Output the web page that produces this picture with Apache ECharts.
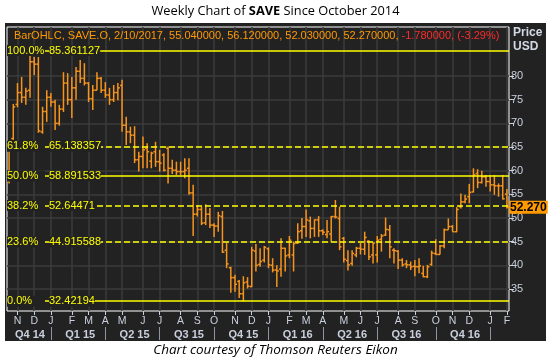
<!DOCTYPE html>
<html><head><meta charset="utf-8">
<script src="https://cdn.jsdelivr.net/npm/echarts@6/dist/echarts.min.js"></script>
<style>html,body{margin:0;padding:0;background:#fff}#c{width:551px;height:359px}</style>
</head><body><div id="c"></div>
<script>
// ---- data (weekly OHLC, SAVE.O, week ending Fridays) ----
const firstWeekEnding = '2014-10-31';
const opens = [57.8,66.8,74.0,76.5,75.5,77.0,83.0,82.5,68.2,72.5,
 75.5,74.5,70.0,73.0,78.5,75.0,77.5,81.0,79.5,78.5,
 75.2,77.0,79.5,77.0,76.0,75.0,76.5,78.0,69.6,68.2,
 67.5,62.3,63.0,64.7,62.0,64.0,61.9,63.3,64.7,60.5,
 60.1,59.8,59.8,60.5,55.3,50.8,51.8,49.0,50.8,48.5,
 48.3,50.3,43.2,39.5,37.4,36.6,34.0,36.5,35.5,43.0,
 40.2,41.1,43.5,40.0,39.0,39.2,43.6,42.2,42.2,44.7,
 47.3,48.2,49.4,47.8,49.6,47.3,46.5,46.6,50.3,49.9,
 45.7,41.0,40.4,42.2,43.6,43.4,45.1,42.2,42.2,45.5,
 46.4,47.5,43.2,43.0,41.1,40.3,40.1,39.8,39.7,38.3,
 37.6,40.2,42.5,42.3,44.1,47.5,48.2,47.1,52.4,53.4,
 54.5,55.5,59.4,57.5,58.7,57.7,57.0,56.8,56.8,55.04];
const highs = [66.0,74.1,78.5,79.8,77.5,85.361127,84.0,84.0,73.5,77.0,
 76.4,75.0,73.9,80.8,80.6,79.8,81.9,83.4,82.7,78.7,
 78.1,80.8,79.8,78.7,77.5,78.1,78.5,79.2,71.4,69.3,
 69.4,64.0,67.2,65.8,64.0,66.1,64.4,63.7,65.1,62.3,
 61.9,61.9,62.6,62.6,57.0,52.7,52.4,52.9,52.1,48.9,
 51.3,51.5,44.7,39.7,38.0,36.9,37.7,37.5,43.9,44.5,
 43.6,44.1,43.8,41.5,40.0,45.7,43.7,46.2,45.0,48.9,
 50.0,51.8,50.3,49.7,50.4,47.6,49.6,50.4,53.8,52.4,
 46.0,43.2,43.2,43.9,44.7,47.1,45.3,44.8,46.2,46.6,
 50.1,48.5,43.6,43.2,41.5,41.1,40.8,41.1,41.5,39.9,
 40.1,43.1,45.5,44.3,47.8,49.9,48.5,52.3,55.2,54.9,
 57.2,60.5,60.3,60.0,59.1,59.1,59.1,57.3,59.1,56.12];
const lows = [57.3,66.5,73.4,74.3,73.9,75.4,80.2,68.0,67.8,70.3,
 73.5,68.6,69.5,72.4,73.9,71.1,75.0,78.5,78.0,74.5,
 72.8,77.0,76.4,75.4,73.9,74.5,74.9,68.2,65.4,65.8,
 61.6,59.8,60.5,60.5,60.5,60.8,59.8,59.8,57.3,59.3,
 59.1,59.1,58.4,54.9,46.2,50.3,48.5,48.5,47.9,46.0,
 47.1,42.6,39.4,34.2,34.4,33.1,32.42194,35.1,35.4,38.7,
 39.7,40.6,39.4,38.5,35.4,37.6,38.7,41.5,38.7,44.5,
 45.6,46.0,45.7,46.0,46.0,46.4,45.7,45.0,49.9,43.2,
 40.6,38.9,39.9,41.7,42.3,42.2,41.1,40.4,40.6,42.9,
 46.2,41.5,40.4,39.2,39.7,39.4,39.0,37.7,38.3,37.5,
 37.3,39.9,42.2,42.3,43.6,47.5,47.1,47.0,52.0,53.1,
 53.1,55.4,56.3,57.3,56.6,55.6,54.9,54.5,53.9,52.03];
const closes = [65.5,73.5,76.5,75.5,76.8,83.0,82.5,68.4,72.5,75.5,
 74.5,70.0,73.0,78.5,75.0,77.5,81.0,79.5,78.5,75.2,
 77.0,79.5,77.0,76.0,75.0,76.5,77.5,69.6,68.2,67.5,
 62.3,63.0,64.4,64.0,63.7,61.9,61.6,60.1,60.5,60.1,
 59.8,59.8,60.1,55.3,50.8,51.8,48.9,50.8,48.5,48.3,
 50.5,42.8,40.3,37.4,36.0,34.0,36.3,35.6,43.2,40.0,
 40.8,43.8,40.1,39.0,38.8,43.6,42.0,45.3,44.6,47.1,
 48.2,49.6,47.8,49.6,47.3,47.0,47.1,50.3,50.2,43.9,
 41.3,40.1,42.5,43.6,43.4,45.9,41.8,44.7,45.3,46.2,
 47.6,43.9,43.1,41.1,40.1,40.1,39.7,39.7,39.9,37.6,
 39.7,42.6,42.3,44.1,47.5,48.2,47.1,51.8,53.4,54.0,
 55.4,59.1,57.5,58.7,57.7,57.0,56.8,56.8,54.05,52.27];
const fibPct = ['100.0%','61.8%','50.0%','38.2%','23.6%','0.0%'];
const fibVal = [85.361127,65.138357,58.891533,52.64471,44.915588,32.42194];
const fibDashed = [false,true,false,true,true,false];
const priceTicks = [35,40,45,50,55,60,65,70,75,80];
const monthLetters = ['J','F','M','A','M','J','J','A','S','O','N','D'];

// ---- derived ----
const weekDates = [];
{
  const p = firstWeekEnding.split('-').map(Number);
  const t0 = Date.UTC(p[0], p[1]-1, p[2]);
  for (let i = 0; i < closes.length; i++) weekDates.push(new Date(t0 + i*7*86400000).toISOString().slice(0,10));
}
const monthOf = s => +s.slice(5,7) - 1;
const monthTickIdx = [];
for (let i = 1; i < weekDates.length; i++) {
  if (monthOf(weekDates[i]) !== monthOf(weekDates[i-1])) monthTickIdx.push(Math.min(i+1, weekDates.length-1));
}
const monthSet = new Set(monthTickIdx);
const qSep = monthTickIdx.filter(i => monthOf(weekDates[i]) % 3 === 0);
const qSepSet = new Set(qSep);
const qLabel = new Map();
{
  let prev = -0.5;
  qSep.forEach(s => {
    const mid = Math.round((prev + s) / 2);
    const d = weekDates[mid];
    qLabel.set(mid, 'Q' + (Math.floor(monthOf(d)/3)+1) + ' ' + d.slice(2,4));
    prev = s;
  });
}
const n = closes.length;
const lastIdx = n - 1;
const lastDate = weekDates[lastIdx].split('-').map(Number);
const chg = closes[lastIdx] - closes[lastIdx-1];
const chgPct = chg / closes[lastIdx-1] * 100;
const infoMain = 'BarOHLC, SAVE.O, ' + lastDate[1] + '/' + lastDate[2] + '/' + lastDate[0] + ', ' +
  [opens[lastIdx], highs[lastIdx], lows[lastIdx], closes[lastIdx]].map(v => v.toFixed(6)).join(', ') + ', ';
const infoChg = chg.toFixed(6) + ', (' + chgPct.toFixed(2) + '%)';
const lastPrice = closes[lastIdx];

const ohlc = closes.map((c, i) => [i, opens[i], highs[i], lows[i], c]);

const ORANGE = '#f7941d';
const AXC = '#c9d0dd';
const FONT = 'Liberation Sans';
const BG = '#222222';

function renderItem(params, api) {
  const x = api.value(0);
  const o = api.coord([x, api.value(1)]);
  const h = api.coord([x, api.value(2)]);
  const l = api.coord([x, api.value(3)]);
  const c = api.coord([x, api.value(4)]);
  const style = {stroke: ORANGE, lineWidth: 1.5};
  return {type: 'group', children: [
    {type: 'line', shape: {x1: h[0], y1: h[1], x2: l[0], y2: l[1]}, style},
    {type: 'line', shape: {x1: o[0]-2, y1: o[1], x2: o[0], y2: o[1]}, style},
    {type: 'line', shape: {x1: c[0], y1: c[1], x2: c[0]+2, y2: c[1]}, style}
  ]};
}

const chart = echarts.init(document.getElementById('c'));
chart.setOption({
  animation: false,
  graphic: [{type: 'rect', z: -100, silent: true, shape: {x: 5, y: 23, width: 541, height: 318}, style: {fill: BG}}],
  title: [
    {text: '{a|Weekly Chart of }{b|SAVE}{a| Since October 2014}', left: 'center', top: 5, padding: 0,
     textStyle: {fontWeight: 'normal', rich: {a: {fontFamily: 'Open Sans', fontSize: 12.8, fontWeight: 'normal', color: '#000'}, b: {fontFamily: 'Open Sans', fontSize: 12.8, fontWeight: 'bold', color: '#000'}}}},
    {text: '{o|' + infoMain + '}{r|' + infoChg + '}', left: 14, top: 30, padding: 0,
     textStyle: {fontWeight: 'normal', rich: {o: {fontFamily: FONT, fontSize: 11, fontWeight: 'normal', color: '#ff9900'}, r: {fontFamily: FONT, fontSize: 11, fontWeight: 'normal', color: '#ff2a2a'}}}},
    {text: 'Price\nUSD', left: 513, top: 26, padding: 0,
     textStyle: {fontFamily: FONT, fontSize: 12, fontWeight: 'bold', color: '#d3d9e4', lineHeight: 14}},
    {text: 'Chart courtesy of Thomson Reuters Eikon', left: 'center', top: 343, padding: 0,
     textStyle: {fontFamily: 'Open Sans', fontSize: 13.5, fontStyle: 'italic', fontWeight: 'normal', color: '#000'}}
  ],
  grid: {left: 7, right: 42, top: 27, height: 284, show: true, borderColor: '#ffffff', borderWidth: 1, backgroundColor: BG},
  xAxis: [{
    type: 'category', data: weekDates, boundaryGap: true, position: 'bottom',
    axisLine: {show: false},
    axisTick: {show: true, alignWithLabel: true, length: 4, interval: i => monthSet.has(i), lineStyle: {color: AXC}},
    axisLabel: {interval: i => monthSet.has(i), formatter: v => monthLetters[monthOf(v)], color: AXC, fontFamily: FONT, fontSize: 10.5, margin: 5},
    splitLine: {show: true, alignWithLabel: true, interval: i => monthSet.has(i), lineStyle: {color: '#3b3b3b', width: 1.5}}
  }, {
    type: 'category', data: weekDates, boundaryGap: true, position: 'bottom', offset: 16,
    axisLine: {show: false},
    axisTick: {show: true, alignWithLabel: true, length: 13, interval: i => qSepSet.has(i), lineStyle: {color: '#8d95a4'}},
    axisLabel: {interval: i => qLabel.has(i), formatter: (v, i) => qLabel.get(i) || '', color: AXC, fontFamily: FONT, fontSize: 11, fontWeight: 'bold', margin: 2},
    splitLine: {show: false}
  }],
  yAxis: {
    type: 'value', position: 'right', min: 30.35, max: 90.35, splitNumber: 12,
    axisLine: {show: false},
    axisTick: {show: true, length: 5, customValues: priceTicks, lineStyle: {color: AXC}},
    axisLabel: {customValues: priceTicks, color: AXC, fontFamily: FONT, fontSize: 11, margin: 2},
    splitLine: {show: true, lineStyle: {color: '#3b3b3b', width: 1.5}}
  },
  series: [{
    type: 'custom', renderItem, data: ohlc, encode: {x: 0, y: [1, 2, 3, 4]}, xAxisIndex: 0, yAxisIndex: 0,
    markLine: {
      silent: true, symbol: ['none', 'none'], animation: false,
      data: fibVal.map((v, k) => ({
        yAxis: v, name: fibPct[k],
        lineStyle: {color: '#ffff00', width: 1.5, type: fibDashed[k] ? [6, 3] : 'solid'},
        label: {show: true, position: 'insideStart', distance: [0, 0],
          formatter: '{p|' + fibPct[k] + '}{g| }{v|' + String(fibVal[k]) + '}',
          rich: {
            p: {color: '#ffff00', backgroundColor: BG, width: 38, fontFamily: FONT, fontSize: 11, lineHeight: 12},
            g: {width: 4, fontSize: 11},
            v: {color: '#ffff00', backgroundColor: BG, fontFamily: FONT, fontSize: 11, lineHeight: 12}
          }}
      })).concat([{
        yAxis: lastPrice, name: 'last',
        lineStyle: {width: 1, color: 'rgba(0,0,0,0)'},
        label: {show: true, position: 'end', distance: [0, 0], formatter: lastPrice.toFixed(3),
          backgroundColor: '#ff9900', color: '#000', fontFamily: FONT, fontWeight: 'bold', fontSize: 12, padding: [1, 1, 0, 1]}
      }])
    }
  }]
});
</script>
</body></html>
